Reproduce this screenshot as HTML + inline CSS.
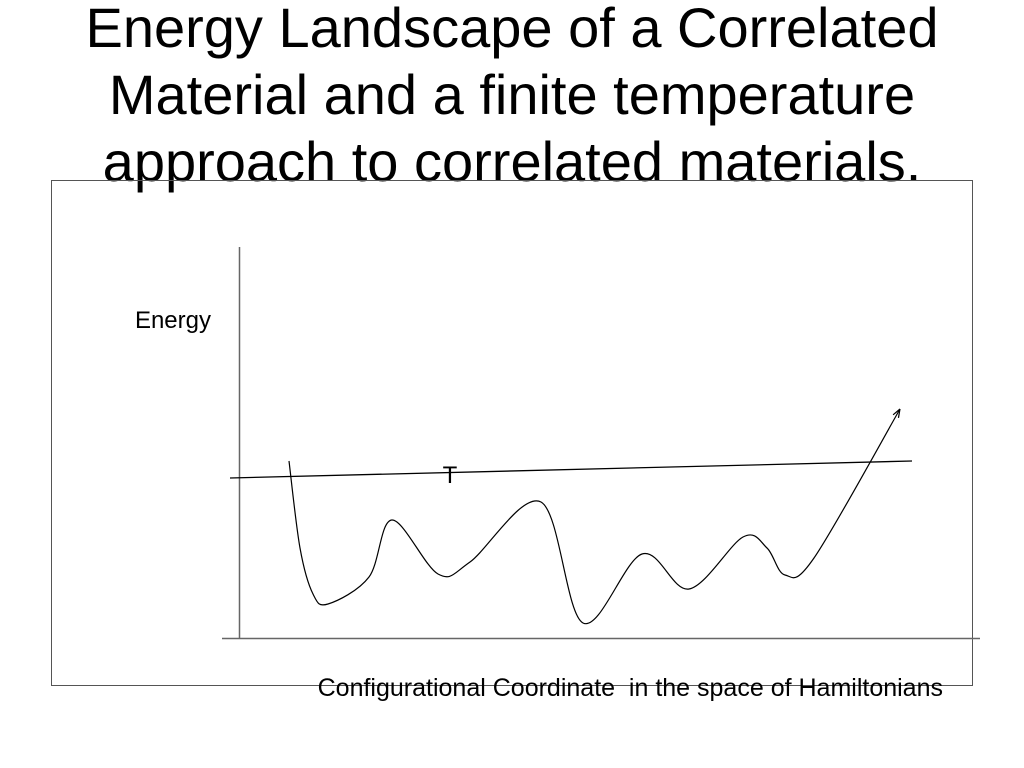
<!DOCTYPE html>
<html>
<head>
<meta charset="utf-8">
<style>
  html,body{margin:0;padding:0;background:#fff;}
  body{width:1024px;height:768px;overflow:hidden;position:relative;font-family:"Liberation Sans",sans-serif;}
  svg{position:absolute;left:0;top:0;}
</style>
</head>
<body>
<svg id="chart" width="1024" height="768">
  <g font-family="Liberation Sans, sans-serif" font-size="56" text-anchor="middle">
    <text x="512" y="47">Energy Landscape of a Correlated</text>
    <text x="512" y="114">Material and a finite temperature</text>
    <text x="512" y="181">approach to correlated materials.</text>
  </g>
  <rect x="51.5" y="180.5" width="921" height="505" fill="none" stroke="#555" stroke-width="1"/>
  <line x1="239.5" y1="247" x2="239.5" y2="639" stroke="#666" stroke-width="1.5"/>
  <line x1="222" y1="638.5" x2="980" y2="638.5" stroke="#666" stroke-width="1.5"/>
  <text x="211" y="328" text-anchor="end" font-size="24" font-family="Liberation Sans, sans-serif">Energy</text>
  <text x="943" y="696" text-anchor="end" font-size="25" font-family="Liberation Sans, sans-serif" style="white-space:pre" xml:space="preserve">Configurational Coordinate  in the space of Hamiltonians</text>
  <g id="marks"></g>
</svg>
<script>
const coordValues = [50, 61, 74, 89, 130, 153, 199, 231, 302, 344, 403, 450, 504, 528, 546, 575, 661];
const energyValues = [177, 90, 44, 34, 61, 118, 64, 76, 136, 15, 84, 49, 101, 90, 63, 80, 229];
const tLineCoords = [-9, 673];
const tLineEnergies = [160, 177];
const tLabelCoord = 211;

function xScale(c){ return 239 + c; }
function yScale(e){ return 638 - e; }

const ns = "http://www.w3.org/2000/svg";
const g = document.getElementById("marks");

const tl = document.createElementNS(ns, "line");


tl.setAttribute("x1", xScale(tLineCoords[0]));
tl.setAttribute("y1", yScale(tLineEnergies[0]));
tl.setAttribute("x2", xScale(tLineCoords[1]));
tl.setAttribute("y2", yScale(tLineEnergies[1]));
tl.setAttribute("stroke", "#000");
tl.setAttribute("stroke-width", "1.3");
g.appendChild(tl);

const tt = document.createElementNS(ns, "text");


tt.setAttribute("x", xScale(tLabelCoord));
tt.setAttribute("y", 483);
tt.setAttribute("text-anchor", "middle");
tt.setAttribute("font-size", "24");
tt.setAttribute("font-family", "Liberation Sans, sans-serif");
tt.textContent = "T";
g.appendChild(tt);

const pts = coordValues.map((c,i)=>[xScale(c), yScale(energyValues[i])]);
let d = "M" + pts[0][0] + "," + pts[0][1];
for (let i=0;i<pts.length-1;i++){
  const p0 = pts[i-1]||pts[i], p1=pts[i], p2=pts[i+1], p3=pts[i+2]||pts[i+1];
  const c1x = p1[0]+(p2[0]-p0[0])/6, c1y = p1[1]+(p2[1]-p0[1])/6;
  const c2x = p2[0]-(p3[0]-p1[0])/6, c2y = p2[1]-(p3[1]-p1[1])/6;
  d += " C"+c1x+","+c1y+" "+c2x+","+c2y+" "+p2[0]+","+p2[1];
}
const path = document.createElementNS(ns, "path");


path.setAttribute("d", d);
path.setAttribute("fill", "none");
path.setAttribute("stroke", "#000");
path.setAttribute("stroke-width", "1.2");
g.appendChild(path);

const n = pts.length;
const ex = pts[n-1][0], ey = pts[n-1][1];
const ang = Math.atan2(ey - pts[n-2][1], ex - pts[n-2][0]);
const ah = document.createElementNS(ns, "path");


const L = 9, W = 0.35;
ah.setAttribute("d", "M"+ex+","+ey+" L"+(ex-L*Math.cos(ang-W))+","+(ey-L*Math.sin(ang-W))+" M"+ex+","+ey+" L"+(ex-L*Math.cos(ang+W))+","+(ey-L*Math.sin(ang+W)));
ah.setAttribute("stroke", "#000");
ah.setAttribute("stroke-width", "1.2");
ah.setAttribute("fill", "none");
g.appendChild(ah);
</script>
</body>
</html>
